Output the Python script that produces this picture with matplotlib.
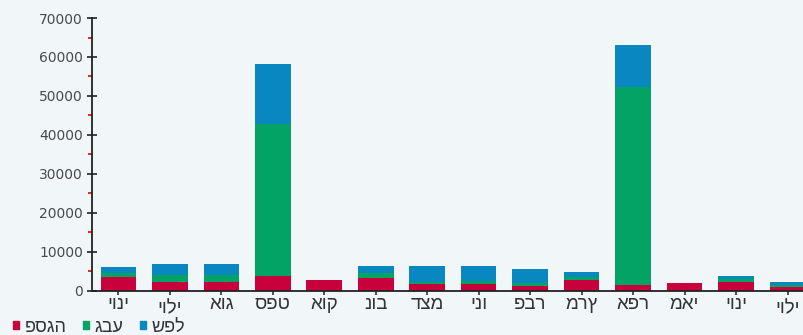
import matplotlib
matplotlib.use('Agg')
import matplotlib.pyplot as plt
import numpy as np
from matplotlib.patches import Patch
from matplotlib.ticker import MultipleLocator
from matplotlib.transforms import ScaledTranslation

months = ['יוני', 'יולי', 'אוג', 'ספט', 'אוק', 'נוב', 'דצמ',
          'ינו', 'פבר', 'מרץ', 'אפר', 'מאי', 'יוני', 'יולי']
# peak / shoulder / off-peak consumption per month
peak = [3450, 2300, 2200, 3800, 2800, 3350, 1700, 1650, 1300, 2750, 1550, 2050, 2250, 900]
shoulder = [1150, 1700, 1750, 39000, 0, 1100, 650, 900, 750, 800, 50800, 0, 700, 650]
offpeak = [1550, 2750, 2900, 15400, 0, 1900, 4000, 3800, 3500, 1250, 10600, 0, 700, 700]
series_names = ['פסגה', 'גבע', 'שפל']

c_peak = '#c8003c'
c_shoulder = '#03a366'
c_offpeak = '#0887c0'
heb_font = ['Liberation Sans', 'DejaVu Sans']

plt.rcParams['font.family'] = ['DejaVu Sans']

fig = plt.figure(figsize=(8.04, 3.35), dpi=100)
fig.patch.set_facecolor('#f1f6f9')
ax = fig.add_axes([0.1144, 0.1322, 0.898, 0.814])
ax.patch.set_alpha(0)

x = np.arange(len(months))
peak = np.array(peak)
shoulder = np.array(shoulder)
offpeak = np.array(offpeak)
w = 0.69
ax.bar(x, peak, w, color=c_peak)
ax.bar(x, shoulder, w, bottom=peak, color=c_shoulder)
ax.bar(x, offpeak, w, bottom=peak + shoulder, color=c_offpeak)

ax.set_xlim(-0.511, len(months) - 0.489)
ax.set_ylim(0, 70000)

for s in ['top', 'right']:
    ax.spines[s].set_visible(False)
for s in ['left', 'bottom']:
    ax.spines[s].set_color('#222222')
    ax.spines[s].set_linewidth(1.3)

ax.yaxis.set_major_locator(MultipleLocator(10000))
ax.yaxis.set_minor_locator(MultipleLocator(5000))
ax.tick_params(axis='y', which='major', direction='inout', length=7, width=1.2,
               color='#222222', labelsize=10, labelcolor='#4a4a4a', pad=3)
ax.tick_params(axis='y', which='minor', direction='out', length=3, width=1.3,
               color='#ee1111')

ax.set_xticks(x)
ax.set_xticklabels(months, family=heb_font)
ax.tick_params(axis='x', direction='out', length=3, width=1.1, color='#222222',
               labelsize=13.5, labelcolor='#333333', pad=1)
# labels with a tall lamed hang a little lower
for lbl in ax.get_xticklabels():
    if 'ל' in lbl.get_text():
        lbl.set_transform(lbl.get_transform() +
                          ScaledTranslation(0, -4 / 100, fig.dpi_scale_trans))

handles = [Patch(color=c) for c in (c_peak, c_shoulder, c_offpeak)]
fig.legend(handles, series_names, loc='lower left',
           bbox_to_anchor=(-0.004, -0.05), ncol=3, frameon=False,
           handlelength=0.33, handleheight=0.33, handletextpad=0.3,
           columnspacing=0.92, prop={'family': heb_font, 'size': 13},
           labelcolor='#333333')

fig.savefig('out.png', dpi=100, facecolor=fig.get_facecolor())
